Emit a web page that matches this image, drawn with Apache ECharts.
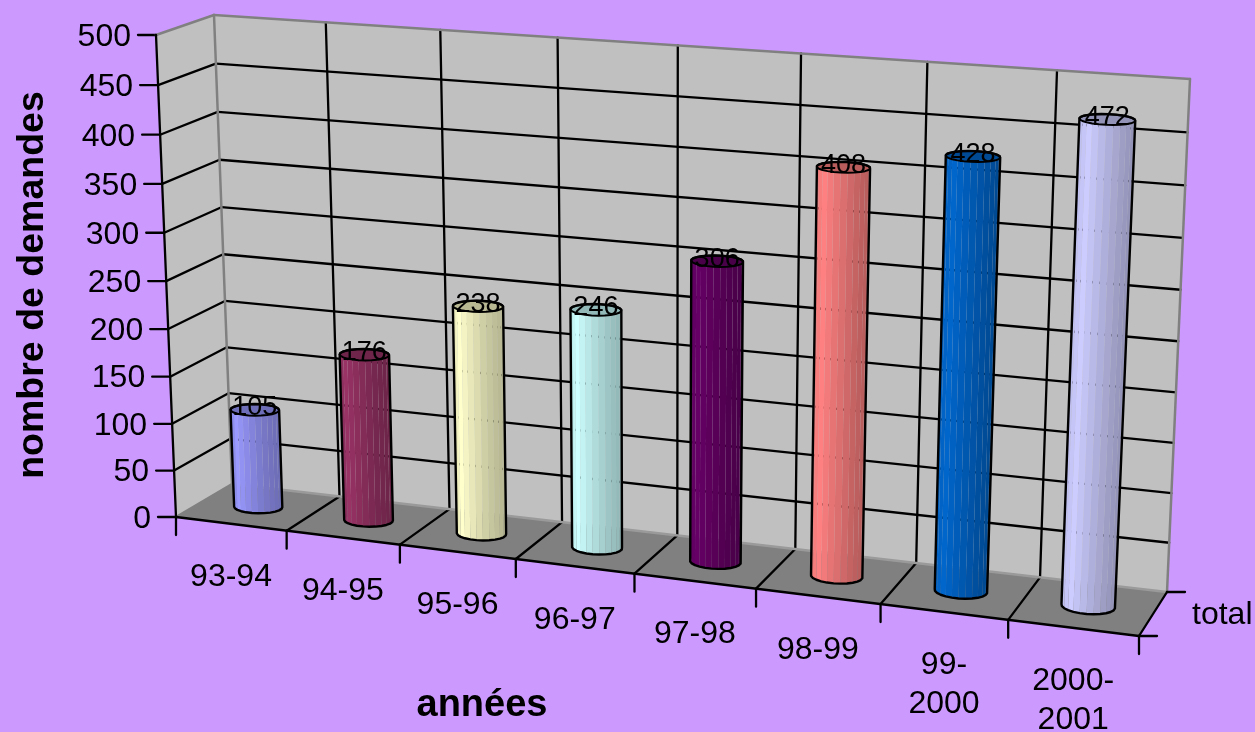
<!DOCTYPE html>
<html>
<head>
<meta charset="utf-8">
<style>html,body{margin:0;padding:0;background:#cc99ff}#c{width:1255px;height:732px}</style>
<script src="https://cdn.jsdelivr.net/npm/echarts@6/dist/echarts.min.js"></script>
</head>
<body>
<div id="c"></div>
<script>
const categories = ['93-94','94-95','95-96','96-97','97-98','98-99','99-2000','2000-2001'];
const values = [105,176,238,246,306,408,428,472];
const colors = ['#9999FF','#993366','#FFFFCC','#CCFFFF','#660066','#FF8080','#0066CC','#CCCCFF'];
const yTicks = [0,50,100,150,200,250,300,350,400,450,500];
const yMax = 500;
const depthLabel = 'total';
const xTitle = 'années';
const yTitle = 'nombre de demandes';

// view of the 3D box: corners of the front and back planes
const FRONT = [[176,517],[1139,636],[1163,109],[156,35]];
const BACK  = [[232,484],[1167,592],[1190,79],[214,15]];
const GRID = {left:176, top:50, width:612, height:470, outerBoundsMode:'none', containLabel:false};
const FONT = 'Liberation Sans';

function homography(q){
  const [x0,y0]=q[0],[x1,y1]=q[1],[x2,y2]=q[2],[x3,y3]=q[3];
  const dx1=x1-x2,dx2=x3-x2,sx=x0-x1+x2-x3,dy1=y1-y2,dy2=y3-y2,sy=y0-y1+y2-y3;
  const den=dx1*dy2-dx2*dy1;
  const g=(sx*dy2-dx2*sy)/den,h=(dx1*sy-sx*dy1)/den;
  const a=x1-x0+g*x1,b=x3-x0+h*x3,d=y1-y0+g*y1,e=y3-y0+h*y3;
  return (u,v)=>{const t=g*u+h*v+1;return [(a*u+b*v+x0)/t,(d*u+e*v+y0)/t];};
}
const hF=homography(FRONT),hB=homography(BACK);
function project(u,v,w){
  const f=hF(u,v),b=hB(u,v);
  return [f[0]+(b[0]-f[0])*w,f[1]+(b[1]-f[1])*w];
}
// axis pixels -> box fractions
function bandU(api,i,off){
  const bw=api.size([1,0])[0];
  const x0=api.coord([0,0])[0]-bw/2, x=api.coord([i,0])[0]+off*bw;
  return (x-x0)/(bw*categories.length);
}
function vOf(api,val){
  const y0=api.coord([0,0])[1],y1=api.coord([0,yMax])[1];
  return (api.coord([0,val])[1]-y0)/(y1-y0);
}

function line(a,b,stroke,lw){
  return {type:'line',silent:true,shape:{x1:a[0],y1:a[1],x2:b[0],y2:b[1]},style:{stroke:stroke,lineWidth:lw,lineCap:'round'}};
}
function poly(pts,fill,stroke,lw){
  const style={};
  style.fill=fill||'none';
  if(stroke){style.stroke=stroke;style.lineWidth=lw;style.lineJoin='round';}
  return {type:'polygon',silent:true,shape:{points:pts},style:style};
}
function text(str,x,y,size,align,vAlign,weight,lh){
  return {type:'text',silent:true,style:{text:str,x:x,y:y,fontSize:size,fontFamily:FONT,fontWeight:weight||'normal',fill:'#000',align:align,verticalAlign:vAlign,lineHeight:lh||size}};
}

function renderFrame(params,api){
  const ch=[];
  const BL='#000',GR='#808080',LW=2.3;
  ch.push(poly([project(0,0,1),project(1,0,1),project(1,1,1),project(0,1,1)],'#c0c0c0'));
  ch.push(poly([project(0,0,0),project(0,0,1),project(0,1,1),project(0,1,0)],'#c0c0c0'));
  ch.push(poly([project(0,0,0),project(1,0,0),project(1,0,1),project(0,0,1)],'#808080'));
  // value grid lines
  yTicks.forEach(t=>{
    const v=vOf(api,t);
    if(t>0&&t<yMax){
      ch.push(line(project(0,v,0),project(0,v,1),BL,LW));
      ch.push(line(project(0,v,1),project(1,v,1),BL,LW));
    }
    const a=project(0,v,0);
    ch.push(line([a[0]-18,a[1]],a,BL,LW));
    ch.push(text(String(t),a[0]-25,a[1]+2,32,'right','middle'));
  });
  // category grid lines and ticks
  categories.forEach((c,i)=>{
    for(const off of (i===0?[-.5,.5]:[.5])){
      const u=bandU(api,i,off);
      if(u>0.001&&u<0.999){
        ch.push(line(project(u,0,1),project(u,1,1),BL,LW));
      }
      if(u<0.999) ch.push(line(project(u,0,0),project(u,0,1),u>0.001?BL:GR,LW));
      const a=project(u,0,0);
      ch.push(line(a,[a[0],a[1]+18],BL,LW));
    }
    const m=project(bandU(api,i,0),0,0);
    const lab=c.length>5?c.replace('-','-\n'):c;
    ch.push(text(lab,m[0],m[1]+34,32,'center','top','normal',39));
  });
  // box edges
  ch.push(line(project(0,0,1),project(1,0,1),'#9a9a9a',LW));
  ch.push(line(project(0,0,1),project(0,1,1),GR,2.5));
  ch.push(line(project(1,0,1),project(1,1,1),GR,2.5));
  ch.push(line(project(0,1,1),project(1,1,1),GR,2.5));
  ch.push(line(project(0,1,0),project(0,1,1),GR,2.5));
  ch.push(line(project(0,0,0),project(0,1,0),BL,LW));
  ch.push(line(project(0,0,0),project(1,0,0),BL,LW));
  ch.push(line(project(1,0,0),project(1,0,1),BL,LW));
  // depth ticks and label
  const d0=project(1,0,0),d1=project(1,0,1),dm=project(1,0,.5);
  ch.push(line(d0,[d0[0]+18,d0[1]],BL,LW));
  ch.push(line(d1,[d1[0]+18,d1[1]],BL,LW));
  ch.push(text(depthLabel,dm[0]+39,dm[1]+1,32,'left','middle'));
  return {type:'group',children:ch};
}

function shade(hex,k){
  const n=parseInt(hex.slice(1),16);
  const f=c=>Math.max(0,Math.min(255,Math.round(c*k)));
  return 'rgb('+f(n>>16&255)+','+f(n>>8&255)+','+f(n&255)+')';
}
function hull(pts){
  const p=pts.slice().sort((a,b)=>a[0]-b[0]||a[1]-b[1]);
  const cr=(o,a,b)=>(a[0]-o[0])*(b[1]-o[1])-(a[1]-o[1])*(b[0]-o[0]);
  const lo=[],up=[];
  for(const q of p){while(lo.length>1&&cr(lo[lo.length-2],lo[lo.length-1],q)<=0)lo.pop();lo.push(q);}
  for(const q of p.slice().reverse()){while(up.length>1&&cr(up[up.length-2],up[up.length-1],q)<=0)up.pop();up.push(q);}
  return lo.slice(0,-1).concat(up.slice(0,-1));
}
const SIDES=24, RU=0.0255, RW=0.17;
function renderColumn(params,api){
  const i=api.value(0),val=api.value(1),col=colors[i];
  const uc=bandU(api,i,0),vt=vOf(api,val),ch=[];
  const ang=k=>k/SIDES*Math.PI*2+Math.PI/SIDES;
  const ring=v=>Array.from({length:SIDES},(_,k)=>project(uc+RU*Math.cos(ang(k)),v,.5-RW*Math.sin(ang(k))));
  const bot=ring(0),top=ring(vt);
  for(let k=0;k<SIDES;k++){
    const mid=ang(k)+Math.PI/SIDES;
    if(Math.sin(mid)<-0.05) continue;
    const c=Math.cos(mid);
    const s=c<-.5?.92+(c+1)*.16:1-(c+.5)*.187;
    const n=(k+1)%SIDES;
    ch.push(poly([bot[k],bot[n],top[n],top[k]],shade(col,s)));
  }
  ch.push(poly(top,shade(col,.72),'#000',2));
  ch.push(poly(hull(bot.concat(top)),null,'#000',2.4));
  const tc=project(uc,vt,.5);
  ch.push(text(String(val),tc[0],tc[1]-2,27,'center','middle'));
  return {type:'group',children:ch};
}

const chart=echarts.init(document.getElementById('c'));
chart.setOption({
  animation:false,
  backgroundColor:'#cc99ff',
  textStyle:{fontFamily:FONT},
  tooltip:{show:false},
  grid:Object.assign({},GRID),
  xAxis:{type:'category',data:categories,name:xTitle,nameLocation:'middle',nameGap:167,
    nameTextStyle:{fontFamily:FONT,fontSize:38,fontWeight:'bold',color:'#000'},
    axisLine:{show:false},axisTick:{show:false},axisLabel:{show:false},splitLine:{show:false}},
  yAxis:{type:'value',min:0,max:yMax,interval:50,name:yTitle,nameLocation:'middle',nameGap:124,nameRotate:90,
    nameTextStyle:{fontFamily:FONT,fontSize:37.5,fontWeight:'bold',color:'#000'},
    axisLine:{show:false},axisTick:{show:false},axisLabel:{show:false},splitLine:{show:false}},
  series:[
    {type:'custom',silent:true,clip:false,z:1,renderItem:renderFrame,data:[[0,0]],encode:{x:0,y:1}},
    {type:'custom',silent:true,clip:false,z:2,renderItem:renderColumn,encode:{x:0,y:1},
      data:values.map((v,i)=>[i,v])}
  ]
});
</script>
</body>
</html>
